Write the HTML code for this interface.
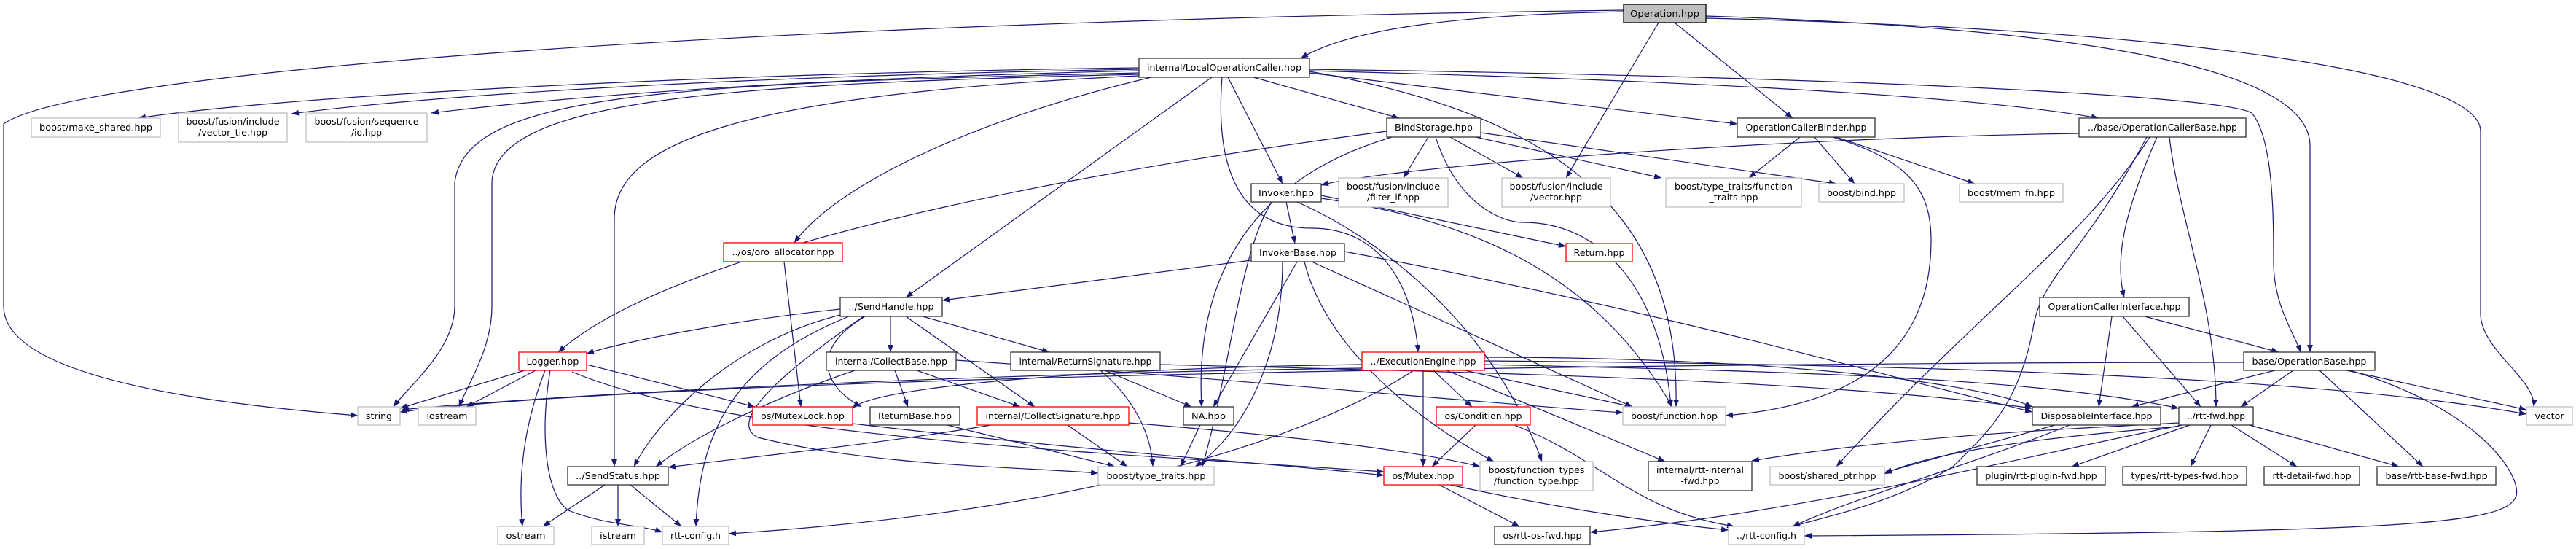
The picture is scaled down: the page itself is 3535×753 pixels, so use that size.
<!DOCTYPE html>
<html><head><meta charset="utf-8"><style>
html,body{margin:0;padding:0;background:#fff;}
svg{display:block;}
text{font-family:"DejaVu Sans","Liberation Sans",sans-serif;font-size:12px;fill:#000;}
.n{fill:#fff;stroke:#333;stroke-width:1.3}
.g{fill:#fff;stroke:#bfbfbf;stroke-width:1.3}
.r{fill:#fff;stroke:#ff0000;stroke-width:1.3}
.root{fill:#bfbfbf;stroke:#000;stroke-width:1.3}
.e path{fill:none;stroke:#191970;stroke-width:1.2;marker-end:url(#a)}
</style></head><body>
<svg width="3535" height="753" viewBox="0 0 3535 753" xmlns="http://www.w3.org/2000/svg">
<defs><marker id="a" markerWidth="11" markerHeight="9" refX="10" refY="4" orient="auto" markerUnits="userSpaceOnUse"><path d="M0,0 L10,4 L0,8 z" fill="#191970"/></marker></defs>
<g class="e">
<path d="M2228 16 C2000 20 1850 40 1785 80"/>
<path d="M2228 14 C1000 30 100 100 5 170 L5 420 C5 520 300 555 491 570"/>
<path d="M2276 31 L2149 244"/>
<path d="M2298 31 L2460 162"/>
<path d="M2341 22 C2900 40 3170 100 3170 200 L3170 483"/>
<path d="M2341 25 C3000 40 3404 100 3404 180 L3404 430 C3404 480 3480 520 3477 558"/>
<path d="M1563 93 C1000 100 400 130 190 162"/>
<path d="M1563 95 C1000 105 600 130 400 156"/>
<path d="M1563 97 C1100 108 800 130 592 155"/>
<path d="M1563 100 C900 115 640 130 624 250 L624 420 C624 480 560 530 540 558"/>
<path d="M1563 102 C1000 115 680 135 675 250 L675 420 C675 480 640 530 630 558"/>
<path d="M1563 104 C1000 130 843 200 843 300 L843 640"/>
<path d="M1580 106 C1350 160 1150 250 1090 333"/>
<path d="M1663 106 L1243 408"/>
<path d="M1685 106 L1760 252"/>
<path d="M1720 106 L1920 162"/>
<path d="M1677 106 C1665 260 1720 313 1800 313 C1900 313 1940 400 1946 483"/>
<path d="M1797 100 L2384 170"/>
<path d="M1797 97 C2300 110 2700 130 2880 162"/>
<path d="M1797 95 C2500 105 3050 130 3090 155 C3120 190 3120 300 3120 360 C3120 420 3150 460 3157 483"/>
<path d="M1797 98 C2150 160 2305 300 2300 558"/>
<path d="M1960 188 L1926 244"/>
<path d="M1990 188 L2090 244"/>
<path d="M2025 188 L2280 244"/>
<path d="M2032 182 L2520 252"/>
<path d="M1903 180 C1600 220 950 320 766 483"/>
<path d="M1910 188 C1700 250 1640 400 1649 558"/>
<path d="M1970 188 C2000 280 2060 305 2090 305 C2200 305 2280 400 2293 558"/>
<path d="M2470 188 L2400 244"/>
<path d="M2490 188 L2545 252"/>
<path d="M2520 188 L2710 252"/>
<path d="M2515 188 C2620 220 2650 260 2650 330 C2650 480 2550 555 2368 570"/>
<path d="M2853 183 C2400 190 1900 230 1813 254"/>
<path d="M2960 188 C2920 280 2900 350 2915 408"/>
<path d="M2950 188 C2860 330 2700 440 2520 640"/>
<path d="M2946 188 C2860 350 2800 380 2790 450 C2770 560 2720 600 2680 640 C2600 690 2500 710 2460 722"/>
<path d="M2977 188 C2990 300 3041 420 3041 558"/>
<path d="M1765 277 L1777 334"/>
<path d="M1813 268 L2149 338"/>
<path d="M1813 272 C2000 300 2180 360 2295 558"/>
<path d="M1745 277 C1700 350 1690 500 1650 640"/>
<path d="M1780 277 C1900 330 2050 450 2116 633"/>
<path d="M1717 357 L1293 412"/>
<path d="M1780 359 L1665 558"/>
<path d="M1760 359 C1760 500 1700 600 1640 640"/>
<path d="M1800 359 L2240 558"/>
<path d="M1790 359 C1820 480 1950 580 2050 633"/>
<path d="M1845 345 C2300 430 2600 520 2789 565"/>
<path d="M1076 359 L1099 558"/>
<path d="M1153 424 C1000 440 850 470 805 485"/>
<path d="M1222 434 L1222 483"/>
<path d="M1266 434 L1440 483"/>
<path d="M1187 434 C1110 480 1130 530 1182 558"/>
<path d="M1243 434 L1420 558"/>
<path d="M1165 434 C1000 500 960 600 955 722"/>
<path d="M1185 434 C1060 520 1000 580 1040 600 C1200 640 1400 640 1507 649"/>
<path d="M1153 432 C1000 470 900 580 870 640"/>
<path d="M720 508 L549 560"/>
<path d="M735 508 L640 558"/>
<path d="M748 508 C720 580 710 650 717 722"/>
<path d="M755 508 C740 600 750 680 780 700 C830 720 880 720 909 730"/>
<path d="M805 500 L1036 558"/>
<path d="M785 510 C1000 600 1500 620 1899 647"/>
<path d="M1228 508 L1246 558"/>
<path d="M1258 508 L1400 558"/>
<path d="M1173 508 C1050 550 950 600 900 640"/>
<path d="M1312 494 C1700 520 2000 550 2227 566"/>
<path d="M1516 508 L1635 558"/>
<path d="M1510 508 C1560 550 1580 600 1582 640"/>
<path d="M1592 500 C2000 510 2500 520 2789 560"/>
<path d="M1360 583 C1200 610 1000 630 917 641"/>
<path d="M1465 583 L1547 640"/>
<path d="M1549 580 C1800 600 1950 620 2031 640"/>
<path d="M1647 583 L1620 640"/>
<path d="M1170 581 C1500 620 1800 640 1899 652"/>
<path d="M1300 583 L1530 640"/>
<path d="M830 665 L745 722"/>
<path d="M848 665 L848 722"/>
<path d="M865 665 L935 722"/>
<path d="M1869 505 C1500 510 900 530 551 562"/>
<path d="M1869 500 C1500 505 1200 530 1170 560"/>
<path d="M1967 508 L2020 558"/>
<path d="M1953 508 L1953 640"/>
<path d="M2010 508 L2240 558"/>
<path d="M1985 508 L2285 633"/>
<path d="M2037 500 C2500 510 2800 520 2990 560"/>
<path d="M2037 495 C2700 500 3200 520 3467 568"/>
<path d="M1940 508 C1800 600 1500 700 1000 732"/>
<path d="M2037 490 C2400 490 2700 520 2789 558"/>
<path d="M2025 583 L1965 640"/>
<path d="M2078 583 C2200 630 2240 700 2380 722"/>
<path d="M1975 665 L2085 722"/>
<path d="M1990 665 C2150 700 2300 720 2372 727"/>
<path d="M2898 434 L2880 558"/>
<path d="M2913 434 L3020 558"/>
<path d="M2943 434 L3127 483"/>
<path d="M3079 497 C2500 497 1000 510 549 565"/>
<path d="M3122 508 L2925 558"/>
<path d="M3147 508 L3075 558"/>
<path d="M3220 508 L3467 562"/>
<path d="M3183 508 L3325 640"/>
<path d="M3225 508 C3400 560 3460 650 3453 680 C3440 720 3300 730 2476 735"/>
<path d="M2820 583 L2586 648"/>
<path d="M2840 583 C2700 640 2550 680 2460 722"/>
<path d="M3005 583 L2843 640"/>
<path d="M3034 583 L3006 640"/>
<path d="M3062 583 L3152 640"/>
<path d="M3087 583 L3292 640"/>
<path d="M2990 580 C2800 590 2600 600 2404 632"/>
<path d="M2990 585 C2800 600 2650 620 2586 650"/>
<path d="M2995 583 C2800 620 2500 700 2182 730"/>
</g>
<g>
<rect class="root" x="2228" y="6" width="113" height="25"/><text x="2284.5" y="23" text-anchor="middle" textLength="95" lengthAdjust="spacingAndGlyphs">Operation.hpp</text>
<rect class="n" x="1563" y="80" width="234" height="26"/><text x="1680" y="97" text-anchor="middle" textLength="212" lengthAdjust="spacingAndGlyphs">internal/LocalOperationCaller.hpp</text>
<rect class="g" x="43" y="162" width="177" height="26"/><text x="131.5" y="179" text-anchor="middle" textLength="155" lengthAdjust="spacingAndGlyphs">boost/make_shared.hpp</text>
<rect class="g" x="245" y="155" width="149" height="40"/><text x="319.5" y="171" text-anchor="middle" textLength="128" lengthAdjust="spacingAndGlyphs">boost/fusion/include</text><text x="319.5" y="186" text-anchor="middle" textLength="95" lengthAdjust="spacingAndGlyphs">/vector_tie.hpp</text>
<rect class="g" x="420" y="155" width="166" height="40"/><text x="503" y="171" text-anchor="middle" textLength="143" lengthAdjust="spacingAndGlyphs">boost/fusion/sequence</text><text x="503" y="186" text-anchor="middle" textLength="42" lengthAdjust="spacingAndGlyphs">/io.hpp</text>
<rect class="n" x="1903" y="162" width="129" height="26"/><text x="1967.5" y="179" text-anchor="middle" textLength="107" lengthAdjust="spacingAndGlyphs">BindStorage.hpp</text>
<rect class="n" x="2384" y="162" width="189" height="26"/><text x="2478.5" y="179" text-anchor="middle" textLength="166" lengthAdjust="spacingAndGlyphs">OperationCallerBinder.hpp</text>
<rect class="n" x="2853" y="162" width="229" height="26"/><text x="2967.5" y="179" text-anchor="middle" textLength="205" lengthAdjust="spacingAndGlyphs">../base/OperationCallerBase.hpp</text>
<rect class="n" x="1717" y="252" width="96" height="25"/><text x="1765" y="269" text-anchor="middle" textLength="76" lengthAdjust="spacingAndGlyphs">Invoker.hpp</text>
<rect class="g" x="1837" y="244" width="150" height="40"/><text x="1912" y="260" text-anchor="middle" textLength="128" lengthAdjust="spacingAndGlyphs">boost/fusion/include</text><text x="1912" y="275" text-anchor="middle" textLength="72" lengthAdjust="spacingAndGlyphs">/filter_if.hpp</text>
<rect class="g" x="2061" y="244" width="149" height="40"/><text x="2135.5" y="260" text-anchor="middle" textLength="128" lengthAdjust="spacingAndGlyphs">boost/fusion/include</text><text x="2135.5" y="275" text-anchor="middle" textLength="71" lengthAdjust="spacingAndGlyphs">/vector.hpp</text>
<rect class="g" x="2286" y="244" width="186" height="40"/><text x="2379" y="260" text-anchor="middle" textLength="162" lengthAdjust="spacingAndGlyphs">boost/type_traits/function</text><text x="2379" y="275" text-anchor="middle" textLength="67" lengthAdjust="spacingAndGlyphs">_traits.hpp</text>
<rect class="g" x="2496" y="252" width="117" height="25"/><text x="2554.5" y="269" text-anchor="middle" textLength="95" lengthAdjust="spacingAndGlyphs">boost/bind.hpp</text>
<rect class="g" x="2689" y="252" width="142" height="25"/><text x="2760" y="269" text-anchor="middle" textLength="120" lengthAdjust="spacingAndGlyphs">boost/mem_fn.hpp</text>
<rect class="r" x="993" y="333" width="163" height="26"/><text x="1074.5" y="350" text-anchor="middle" textLength="140" lengthAdjust="spacingAndGlyphs">../os/oro_allocator.hpp</text>
<rect class="n" x="1717" y="334" width="128" height="25"/><text x="1781" y="351" text-anchor="middle" textLength="106" lengthAdjust="spacingAndGlyphs">InvokerBase.hpp</text>
<rect class="r" x="2149" y="334" width="91" height="25"/><text x="2194.5" y="351" text-anchor="middle" textLength="70" lengthAdjust="spacingAndGlyphs">Return.hpp</text>
<rect class="n" x="1153" y="408" width="140" height="26"/><text x="1223" y="425" text-anchor="middle" textLength="117" lengthAdjust="spacingAndGlyphs">../SendHandle.hpp</text>
<rect class="n" x="2799" y="408" width="205" height="26"/><text x="2901.5" y="425" text-anchor="middle" textLength="182" lengthAdjust="spacingAndGlyphs">OperationCallerInterface.hpp</text>
<rect class="r" x="712" y="483" width="93" height="25"/><text x="758.5" y="500" text-anchor="middle" textLength="72" lengthAdjust="spacingAndGlyphs">Logger.hpp</text>
<rect class="n" x="1134" y="483" width="178" height="25"/><text x="1223" y="500" text-anchor="middle" textLength="154" lengthAdjust="spacingAndGlyphs">internal/CollectBase.hpp</text>
<rect class="n" x="1387" y="483" width="205" height="25"/><text x="1489.5" y="500" text-anchor="middle" textLength="182" lengthAdjust="spacingAndGlyphs">internal/ReturnSignature.hpp</text>
<rect class="r" x="1869" y="483" width="168" height="25"/><text x="1953" y="500" text-anchor="middle" textLength="145" lengthAdjust="spacingAndGlyphs">../ExecutionEngine.hpp</text>
<rect class="n" x="3079" y="483" width="180" height="25"/><text x="3169" y="500" text-anchor="middle" textLength="157" lengthAdjust="spacingAndGlyphs">base/OperationBase.hpp</text>
<rect class="g" x="491" y="558" width="58" height="25"/><text x="520" y="575" text-anchor="middle" textLength="36" lengthAdjust="spacingAndGlyphs">string</text>
<rect class="g" x="574" y="558" width="79" height="25"/><text x="613.5" y="575" text-anchor="middle" textLength="56" lengthAdjust="spacingAndGlyphs">iostream</text>
<rect class="r" x="1033" y="558" width="137" height="25"/><text x="1101.5" y="575" text-anchor="middle" textLength="115" lengthAdjust="spacingAndGlyphs">os/MutexLock.hpp</text>
<rect class="n" x="1194" y="558" width="123" height="25"/><text x="1255.5" y="575" text-anchor="middle" textLength="101" lengthAdjust="spacingAndGlyphs">ReturnBase.hpp</text>
<rect class="r" x="1341" y="558" width="208" height="25"/><text x="1445" y="575" text-anchor="middle" textLength="185" lengthAdjust="spacingAndGlyphs">internal/CollectSignature.hpp</text>
<rect class="n" x="1624" y="558" width="69" height="25"/><text x="1658.5" y="575" text-anchor="middle" textLength="47" lengthAdjust="spacingAndGlyphs">NA.hpp</text>
<rect class="r" x="1971" y="558" width="129" height="25"/><text x="2035.5" y="575" text-anchor="middle" textLength="106" lengthAdjust="spacingAndGlyphs">os/Condition.hpp</text>
<rect class="g" x="2227" y="558" width="141" height="25"/><text x="2297.5" y="575" text-anchor="middle" textLength="119" lengthAdjust="spacingAndGlyphs">boost/function.hpp</text>
<rect class="n" x="2789" y="558" width="176" height="25"/><text x="2877" y="575" text-anchor="middle" textLength="153" lengthAdjust="spacingAndGlyphs">DisposableInterface.hpp</text>
<rect class="n" x="2990" y="558" width="102" height="25"/><text x="3041" y="575" text-anchor="middle" textLength="80" lengthAdjust="spacingAndGlyphs">../rtt-fwd.hpp</text>
<rect class="g" x="3467" y="558" width="63" height="25"/><text x="3498.5" y="575" text-anchor="middle" textLength="40" lengthAdjust="spacingAndGlyphs">vector</text>
<rect class="n" x="779" y="640" width="138" height="25"/><text x="848" y="657" text-anchor="middle" textLength="116" lengthAdjust="spacingAndGlyphs">../SendStatus.hpp</text>
<rect class="g" x="1507" y="640" width="159" height="25"/><text x="1586.5" y="657" text-anchor="middle" textLength="136" lengthAdjust="spacingAndGlyphs">boost/type_traits.hpp</text>
<rect class="r" x="1899" y="640" width="108" height="25"/><text x="1953" y="657" text-anchor="middle" textLength="85" lengthAdjust="spacingAndGlyphs">os/Mutex.hpp</text>
<rect class="g" x="2031" y="633" width="155" height="40"/><text x="2108.5" y="649" text-anchor="middle" textLength="132" lengthAdjust="spacingAndGlyphs">boost/function_types</text><text x="2108.5" y="664" text-anchor="middle" textLength="117" lengthAdjust="spacingAndGlyphs">/function_type.hpp</text>
<rect class="n" x="2262" y="633" width="142" height="40"/><text x="2333" y="649" text-anchor="middle" textLength="120" lengthAdjust="spacingAndGlyphs">internal/rtt-internal</text><text x="2333" y="664" text-anchor="middle" textLength="53" lengthAdjust="spacingAndGlyphs">-fwd.hpp</text>
<rect class="g" x="2429" y="640" width="157" height="25"/><text x="2507.5" y="657" text-anchor="middle" textLength="134" lengthAdjust="spacingAndGlyphs">boost/shared_ptr.hpp</text>
<rect class="n" x="2713" y="640" width="176" height="25"/><text x="2801" y="657" text-anchor="middle" textLength="153" lengthAdjust="spacingAndGlyphs">plugin/rtt-plugin-fwd.hpp</text>
<rect class="n" x="2913" y="640" width="170" height="25"/><text x="2998" y="657" text-anchor="middle" textLength="147" lengthAdjust="spacingAndGlyphs">types/rtt-types-fwd.hpp</text>
<rect class="n" x="3107" y="640" width="131" height="25"/><text x="3172.5" y="657" text-anchor="middle" textLength="108" lengthAdjust="spacingAndGlyphs">rtt-detail-fwd.hpp</text>
<rect class="n" x="3262" y="640" width="163" height="25"/><text x="3343.5" y="657" text-anchor="middle" textLength="140" lengthAdjust="spacingAndGlyphs">base/rtt-base-fwd.hpp</text>
<rect class="g" x="683" y="722" width="77" height="25"/><text x="721.5" y="739" text-anchor="middle" textLength="54" lengthAdjust="spacingAndGlyphs">ostream</text>
<rect class="g" x="812" y="722" width="72" height="25"/><text x="848" y="739" text-anchor="middle" textLength="50" lengthAdjust="spacingAndGlyphs">istream</text>
<rect class="g" x="909" y="722" width="91" height="25"/><text x="954.5" y="739" text-anchor="middle" textLength="69" lengthAdjust="spacingAndGlyphs">rtt-config.h</text>
<rect class="n" x="2051" y="722" width="131" height="25"/><text x="2116.5" y="739" text-anchor="middle" textLength="108" lengthAdjust="spacingAndGlyphs">os/rtt-os-fwd.hpp</text>
<rect class="g" x="2372" y="722" width="104" height="25"/><text x="2424" y="739" text-anchor="middle" textLength="82" lengthAdjust="spacingAndGlyphs">../rtt-config.h</text>
</g>
</svg>
</body></html>
